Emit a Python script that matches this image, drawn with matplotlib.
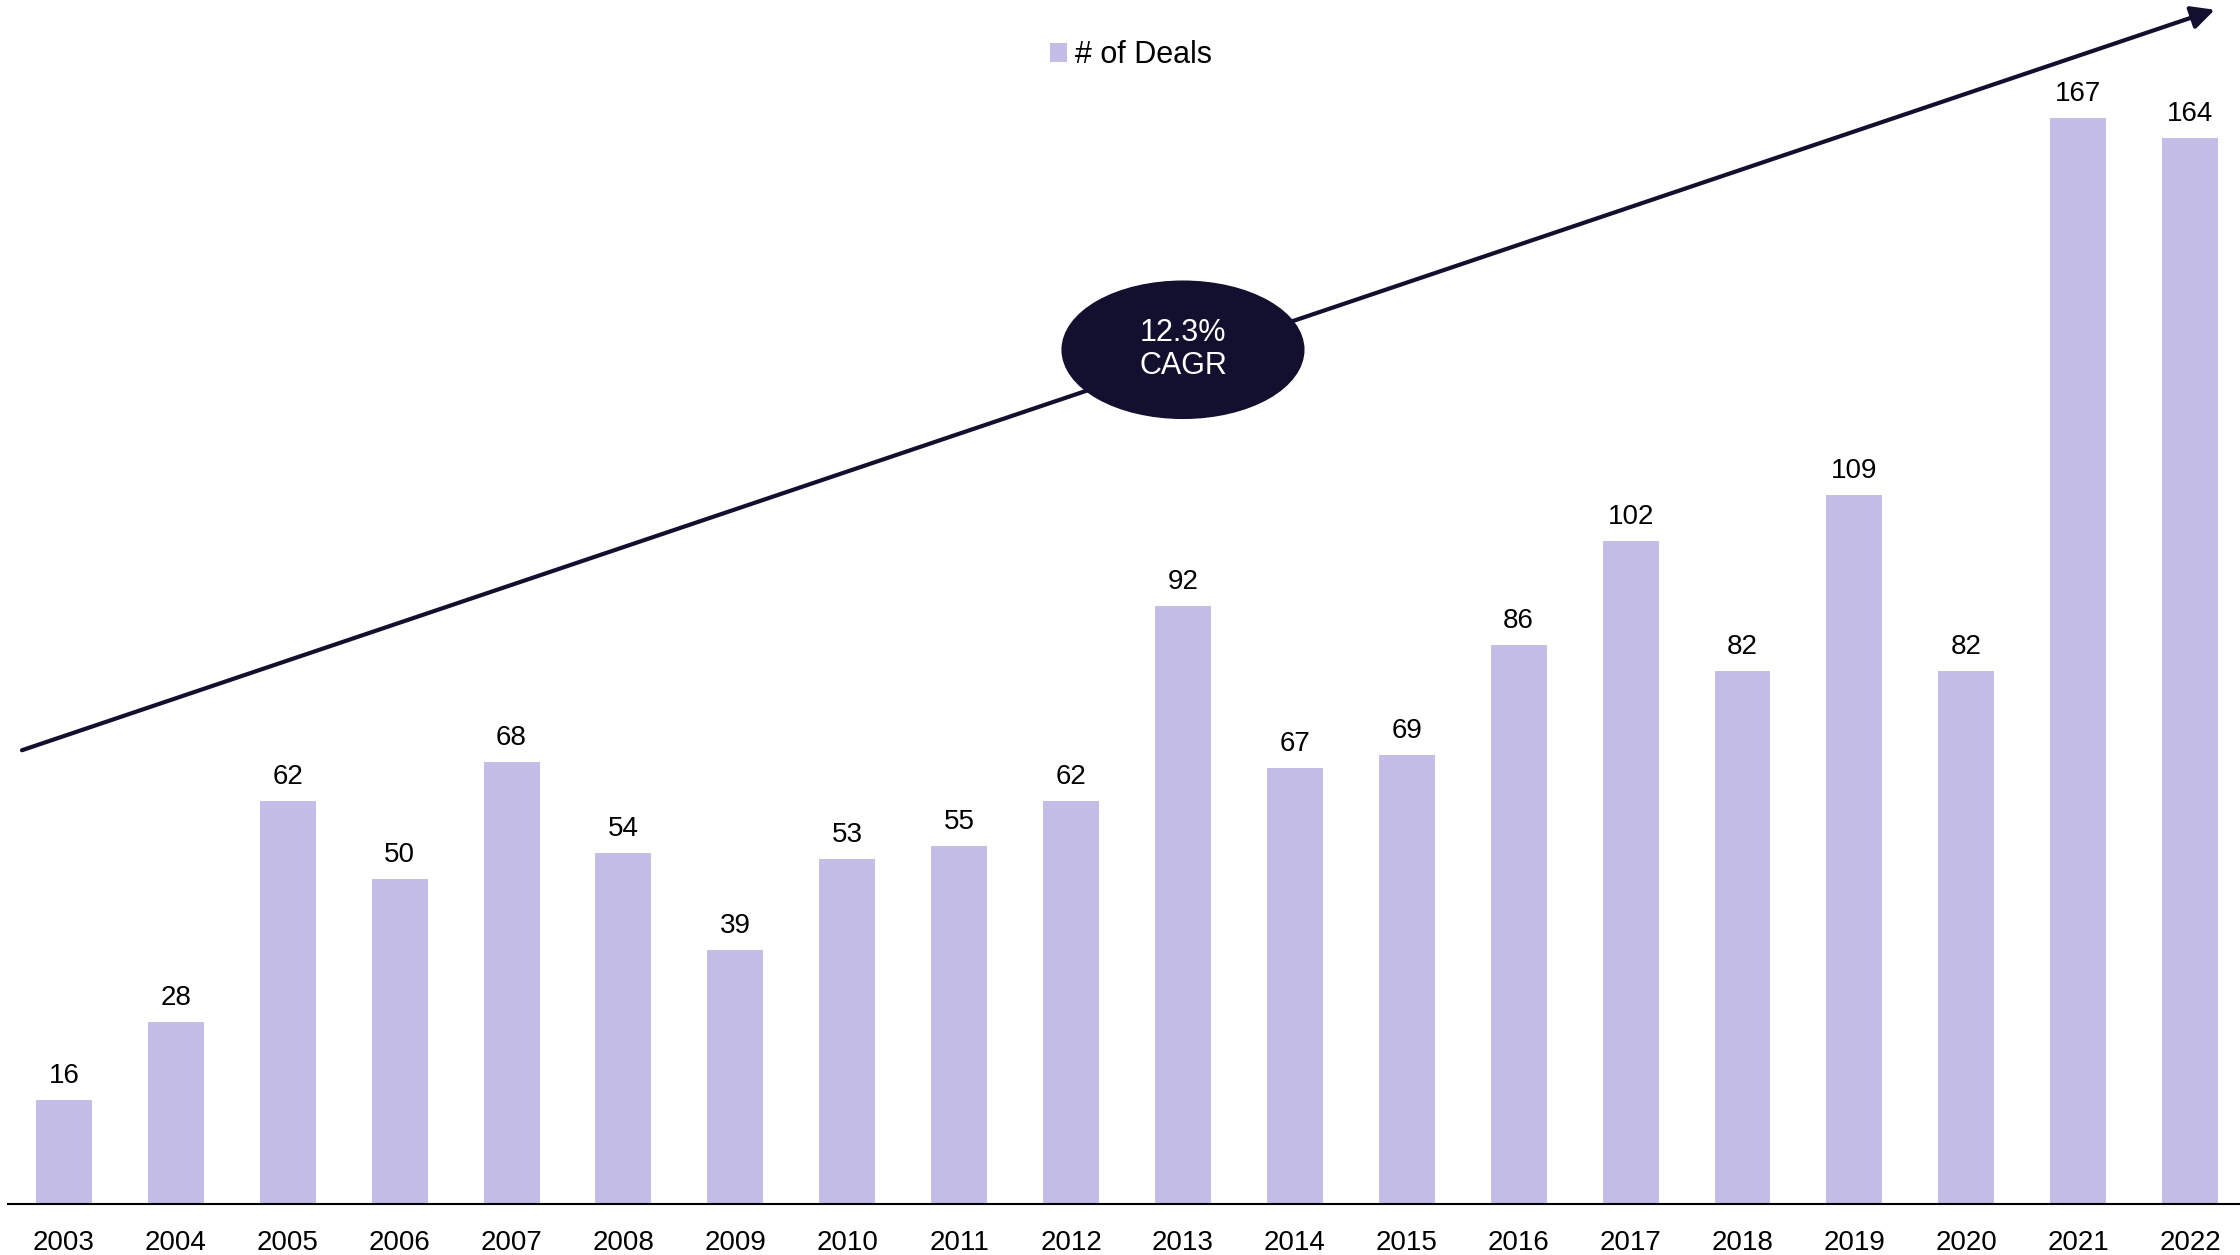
import numpy as np
import matplotlib
matplotlib.use("Agg")
import matplotlib.pyplot as plt
from matplotlib.patches import Ellipse

plt.rcParams['font.family'] = ['Liberation Sans', 'DejaVu Sans']

#####data
years = [str(y) for y in range(2003, 2023)]
deals = [16, 28, 62, 50, 68, 54, 39, 53, 55, 62, 92, 67, 69, 86, 102, 82, 109, 82, 167, 164]
cagr_text = "12.3%\nCAGR"

bar_col = '#C3BDE8'
dark = '#130F2E'

fig = plt.figure(figsize=(22.4, 12.55), dpi=100)
ax = fig.add_axes([8/2240, 51/1255, 2232/2240, 1204/1255])

x = np.arange(len(years))
bars = ax.bar(x, deals, width=0.5, color=bar_col, label='# of Deals', zorder=2)

for xi, v in zip(x, deals):
	ax.annotate(str(v), (xi, v), xytext=(0, 8), textcoords='offset points',
		ha='center', va='bottom', fontsize=20, color='black')

ax.set_xlim(-0.5, 19.446)
ax.set_ylim(0, 185.2)
ax.set_xticks(x)
ax.set_xticklabels(years, fontsize=20)
ax.tick_params(axis='x', length=0, pad=19)
ax.set_yticks([])
for s in ['top', 'right', 'left']:
	ax.spines[s].set_visible(False)
ax.spines['bottom'].set_linewidth(1.5)
ax.spines['bottom'].set_color('black')

# trend arrow
ax.annotate('', xy=(19.22, 183.7), xytext=(-0.375, 69.8),
	arrowprops=dict(arrowstyle='-|>', color=dark, lw=3, mutation_scale=35,
		shrinkA=0, shrinkB=0), annotation_clip=False, zorder=3)

ell = Ellipse((10.0, 131.4), 2.16, 21.1, color=dark, zorder=4)
ax.add_patch(ell)
ax.text(10.0, 131.4, cagr_text, ha='center', va='center', color='white',
	fontsize=22, linespacing=1.15, zorder=5)

ax.legend(loc='center', bbox_to_anchor=(0.503, 0.954), frameon=False,
	fontsize=22, handlelength=0.56, handleheight=0.56, handletextpad=0.25,
	borderpad=0, borderaxespad=0)

fig.savefig('out.png', dpi=100)
